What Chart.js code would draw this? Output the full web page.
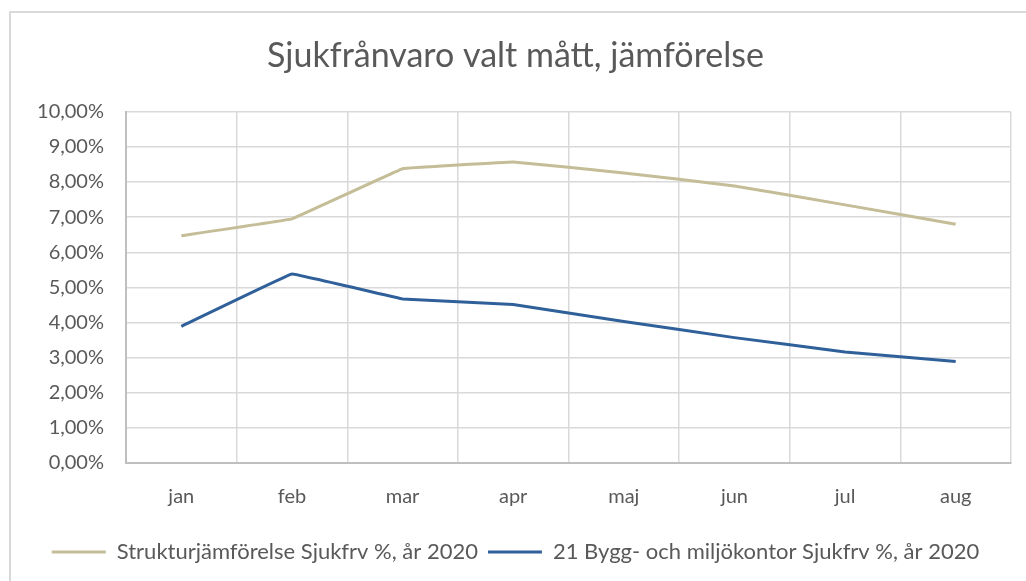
<!DOCTYPE html>
<html>
<head>
<meta charset="utf-8">
<title>Sjukfrånvaro valt mått, jämförelse</title>
<script src="https://cdn.jsdelivr.net/npm/chart.js@4"></script>
<style>
  html, body { margin: 0; padding: 0; background: #fff; overflow: hidden; }
  #wrap { position: relative; width: 1026px; height: 581px; }
  #frame { position: absolute; left: 9px; top: 11px; width: 1100px; height: 700px;
           border: 2px solid #d9d9d9; box-sizing: border-box; }
  canvas { position: absolute; left: 0; top: 0; }
</style>
</head>
<body>
<div id="wrap">
  <div id="frame"></div>
  <canvas id="chart" width="1026" height="581"></canvas>
</div>
<script>
// data (percent)
const months = ["jan", "feb", "mar", "apr", "maj", "jun", "jul", "aug"];
const struktur = [6.47, 6.95, 8.38, 8.57, 8.26, 7.89, 7.35, 6.80];
const bygg = [3.89, 5.38, 4.67, 4.51, 4.03, 3.57, 3.16, 2.89];
const seriesNames = ["Strukturjämförelse Sjukfrv %, år 2020", "21 Bygg- och miljökontor Sjukfrv %, år 2020"];
const seriesColors = ["#c4bd97", "#30609a"];

const textColor = "#595959";
const fontName = "Lato, 'Open Sans', sans-serif";

const ctx = document.getElementById("chart").getContext("2d");

new Chart(ctx, {
  type: "line",
  data: {
    labels: months,
    datasets: [
      {
        label: seriesNames[0],
        data: struktur,
        borderColor: seriesColors[0],
        backgroundColor: seriesColors[0],
        borderWidth: 3,
        pointRadius: 0,
        tension: 0.03,
        fill: false,
      },
      {
        label: seriesNames[1],
        data: bygg,
        borderColor: seriesColors[1],
        backgroundColor: seriesColors[1],
        borderWidth: 3,
        pointRadius: 0,
        tension: 0.03,
        fill: false,
      },
    ],
  },
  options: {
    responsive: false,
    animation: false,
    layout: { padding: { left: 20, right: 15, top: 0, bottom: 8 } },
    plugins: {
      title: {
        display: true,
        text: "Sjukfrånvaro valt mått, jämförelse",
        color: textColor,
        font: { family: fontName, size: 34, weight: "normal" },
        padding: { top: 36, bottom: 35 },
      },
      legend: {
        position: "bottom",
        labels: {
          color: textColor,
          font: { family: fontName, size: 22 },
          boxWidth: 54,
          boxHeight: 3,
          padding: 10,
          generateLabels: (chart) => chart.data.datasets.map((ds, i) => ({
            text: ds.label,
            fillStyle: ds.borderColor,
            strokeStyle: ds.borderColor,
            lineWidth: 0,
            fontColor: textColor,
            datasetIndex: i,
          })),
        },
      },
      tooltip: { enabled: false },
    },
    scales: {
      x: {
        offset: true,
        grid: { offset: true, color: "#d9d9d9", lineWidth: 1.5, drawTicks: false },
        border: { color: "#bfbfbf", width: 2 },
        ticks: { color: textColor, font: { family: fontName, size: 20 }, padding: 22 },
      },
      y: {
        min: 0,
        max: 10,
        grid: { color: "#d9d9d9", lineWidth: 1.5, drawTicks: false },
        border: { color: "#bfbfbf", width: 2 },
        ticks: {
          stepSize: 1,
          color: textColor,
          font: { family: fontName, size: 20 },
          padding: 22,
          callback: (v) => v.toFixed(2).replace(".", ",") + "%",
        },
        afterFit: (scale) => { scale.width = 106; },
      },
    },
  },
});
</script>
</body>
</html>
